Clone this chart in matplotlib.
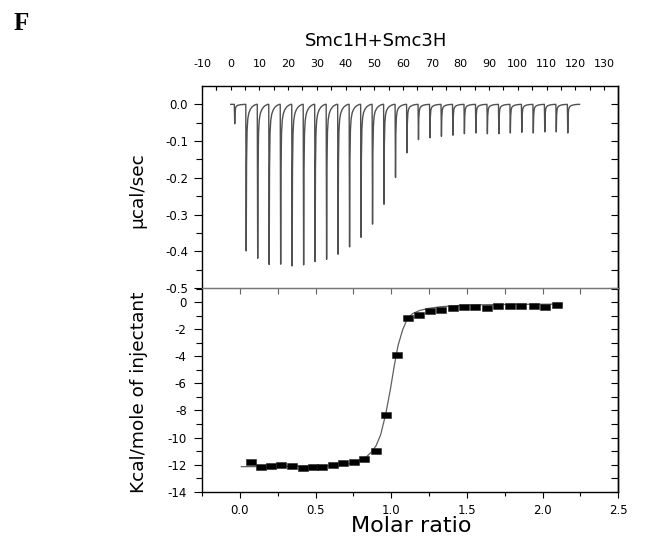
import matplotlib
matplotlib.use("Agg")
import matplotlib.pyplot as plt
from matplotlib.path import Path
from matplotlib.ticker import FixedLocator, FormatStrFormatter

plt.rcParams['axes.unicode_minus'] = False
plt.rcParams['font.family'] = ['DejaVu Sans']

# ---------------- data ----------------
panel_letter = "F"
title = "Smc1H+Smc3H"
top_ylabel = "µcal/sec"
bottom_ylabel = "Kcal/mole of injectant"
bottom_xlabel = "Molar ratio"

# raw thermogram: injection times (min) and peak minima (µcal/sec)
injection_time = [1.4, 5.4, 9.4, 13.4, 17.4, 21.4, 25.4, 29.4, 33.4, 37.4,
                  41.4, 45.4, 49.4, 53.4, 57.4, 61.4, 65.4, 69.4, 73.4, 77.4,
                  81.4, 85.4, 89.4, 93.4, 97.4, 101.4, 105.4, 109.4, 113.4, 117.4]
peak_depth = [-0.053, -0.399, -0.419, -0.436, -0.435, -0.440, -0.437, -0.428, -0.422, -0.408,
              -0.388, -0.362, -0.326, -0.272, -0.199, -0.132, -0.096, -0.091, -0.087, -0.084,
              -0.080, -0.078, -0.080, -0.080, -0.078, -0.076, -0.078, -0.075, -0.075, -0.078]
# recovery profile of each peak after its minimum (min after peak, fraction of depth)
tail_dt = [0.12, 0.3, 0.55, 0.9, 1.4, 2.0, 2.7, 3.5]
tail_frac = [0.40, 0.18, 0.10, 0.06, 0.035, 0.018, 0.007, 0.0]
trace_end = 121.5

# integrated heats
molar_ratio = [0.073, 0.139, 0.205, 0.271, 0.344, 0.414, 0.480, 0.546, 0.617, 0.683,
               0.752, 0.822, 0.899, 0.966, 1.036, 1.109, 1.181, 1.257, 1.332, 1.406,
               1.483, 1.556, 1.631, 1.706, 1.783, 1.860, 1.940, 2.017, 2.094]
heat = [-11.83, -12.15, -12.07, -12.03, -12.07, -12.22, -12.20, -12.17, -12.03, -11.88,
        -11.83, -11.56, -10.99, -8.33, -3.87, -1.20, -0.91, -0.63, -0.60, -0.42,
        -0.35, -0.35, -0.43, -0.29, -0.31, -0.29, -0.25, -0.35, -0.22]

# fitted curve
fit_ratio = [0.01, 0.2, 0.4, 0.6, 0.7, 0.78, 0.83, 0.87, 0.90, 0.93, 0.965, 0.995,
             1.02, 1.045, 1.075, 1.105, 1.14, 1.19, 1.25, 1.33, 1.45, 1.6, 1.8, 2.0, 2.13]
fit_heat = [-12.15, -12.14, -12.12, -12.07, -11.98, -11.78, -11.5, -11.05, -10.6, -9.8,
            -8.2, -6.4, -4.7, -3.2, -2.05, -1.25, -0.85, -0.6, -0.45, -0.33, -0.24,
            -0.19, -0.16, -0.15, -0.14]

top_xticks = [-10, 0, 10, 20, 30, 40, 50, 60, 70, 80, 90, 100, 110, 120, 130]
top_yticks = [-0.5, -0.4, -0.3, -0.2, -0.1, 0.0]
bot_xticks = [0.0, 0.5, 1.0, 1.5, 2.0, 2.5]
bot_yticks = [-14, -12, -10, -8, -6, -4, -2, 0]

# ---------------- figure ----------------
W, H = 649, 548
fig = plt.figure(figsize=(W / 100, H / 100), dpi=100)
L, R = 202 / W, 618.3 / W
ax1 = fig.add_axes([L, 1 - 288 / H, R - L, (288 - 86) / H])
ax2 = fig.add_axes([L, 1 - 491.7 / H, R - L, (491.7 - 288) / H])

# thermogram trace
tx, ty = [0.0], [0.0]
for t, d in zip(injection_time, peak_depth):
    tx += [t - 0.15, t]
    ty += [0.0, d]
    for dt, f in zip(tail_dt, tail_frac):
        tx.append(t + dt)
        ty.append(d * f)
tx.append(trace_end)
ty.append(0.0)
ax1.plot(tx, ty, color='#505050', lw=1.0)
ax1.set_xlim(-10, 135)
ax1.set_ylim(-0.5, 0.05)

ax1.xaxis.set_ticks_position('top')
ax1.xaxis.set_major_locator(FixedLocator(top_xticks))
ax1.xaxis.set_minor_locator(FixedLocator([v + 5 for v in top_xticks[:-1]] + [-5]))
ax1.tick_params(axis='x', which='both', direction='in', length=3, width=0.8,
                top=True, bottom=False, labeltop=True, labelbottom=False,
                pad=12, labelsize=8)
ax1.yaxis.set_major_locator(FixedLocator(top_yticks))
ax1.yaxis.set_minor_locator(FixedLocator([v - 0.05 for v in top_yticks[1:]]))
ax1.yaxis.set_major_formatter(FormatStrFormatter('%.1f'))
ax1.tick_params(axis='y', which='major', direction='out', length=6, width=0.8,
                left=True, right=False, labelsize=8.5, pad=4)
ax1.tick_params(axis='y', which='minor', direction='out', length=4, width=0.8,
                left=True, right=False)
ax1.spines['bottom'].set_visible(False)
for s in ['left', 'top', 'right']:
    ax1.spines[s].set_linewidth(1.0)
sec1 = ax1.secondary_yaxis('right')
sec1.yaxis.set_major_locator(FixedLocator([-0.5, -0.45, -0.4, -0.35, -0.3, -0.25, -0.2,
                                           -0.15, -0.1, -0.05, 0.0]))
sec1.tick_params(direction='in', length=5, width=0.8, labelright=False)
sec1.spines['right'].set_linewidth(1.0)

# integrated heats
rect = Path([(-1, -0.6), (1, -0.6), (1, 0.6), (-1, 0.6), (-1, -0.6)],
            [Path.MOVETO, Path.LINETO, Path.LINETO, Path.LINETO, Path.CLOSEPOLY])
ax2.plot(fit_ratio, fit_heat, color='#606060', lw=0.9, zorder=2)
ax2.plot(molar_ratio, heat, ls='none', marker=rect, ms=7.4,
         mfc='black', mec='#222222', mew=0.4, zorder=3)
ax2.set_xlim(-0.25, 2.5)
ax2.set_ylim(-14, 1.05)
ax2.xaxis.set_major_locator(FixedLocator(bot_xticks))
ax2.xaxis.set_minor_locator(FixedLocator([-0.25, 0.25, 0.75, 1.25, 1.75, 2.25]))
ax2.xaxis.set_major_formatter(FormatStrFormatter('%.1f'))
ax2.tick_params(axis='x', which='major', direction='out', length=4.5, width=0.8,
                top=False, labelsize=8.5, pad=4)
ax2.tick_params(axis='x', which='minor', direction='out', length=3, width=0.8, top=False)
ax2.yaxis.set_major_locator(FixedLocator(bot_yticks))
ax2.yaxis.set_minor_locator(FixedLocator([-13, -11, -9, -7, -5, -3, -1, 1]))
ax2.tick_params(axis='y', which='major', direction='out', length=6, width=0.8,
                right=False, labelsize=8.5, pad=5)
ax2.tick_params(axis='y', which='minor', direction='out', length=4, width=0.8, right=False)
ax2.spines['top'].set_color('#777777')
ax2.spines['top'].set_linewidth(1.0)
for s in ['left', 'bottom', 'right']:
    ax2.spines[s].set_linewidth(1.0)
sec2 = ax2.secondary_yaxis('right')
sec2.yaxis.set_major_locator(FixedLocator(list(range(-14, 2))))
sec2.tick_params(direction='in', length=5, width=0.8, labelright=False)
sec2.spines['right'].set_linewidth(1.0)
sec3 = ax2.secondary_xaxis('top')
sec3.xaxis.set_major_locator(FixedLocator([0.0, 0.25, 0.5, 0.75, 1.0, 1.25, 1.5,
                                           1.75, 2.0, 2.25]))
sec3.tick_params(direction='in', length=4, width=0.8, colors='#666666', labeltop=False)
sec3.spines['top'].set_color('#777777')

# texts
fig.text(14 / W, 1 - 29.5 / H, panel_letter, family='Liberation Serif',
         fontweight='bold', fontsize=18, ha='left', va='baseline')
fig.text(376 / W, 1 - 45.7 / H, title, fontsize=13, ha='center', va='baseline')
fig.text(137 / W, 1 - 190 / H, top_ylabel, fontsize=13.3, rotation=90,
         ha='center', va='center')
fig.text(139 / W, 1 - 392.5 / H, bottom_ylabel, fontsize=13.3, rotation=90,
         ha='center', va='center')
fig.text(411.7 / W, 1 - 531.7 / H, bottom_xlabel, fontsize=16, ha='center',
         va='baseline')

fig.savefig('out.png', dpi=100)
